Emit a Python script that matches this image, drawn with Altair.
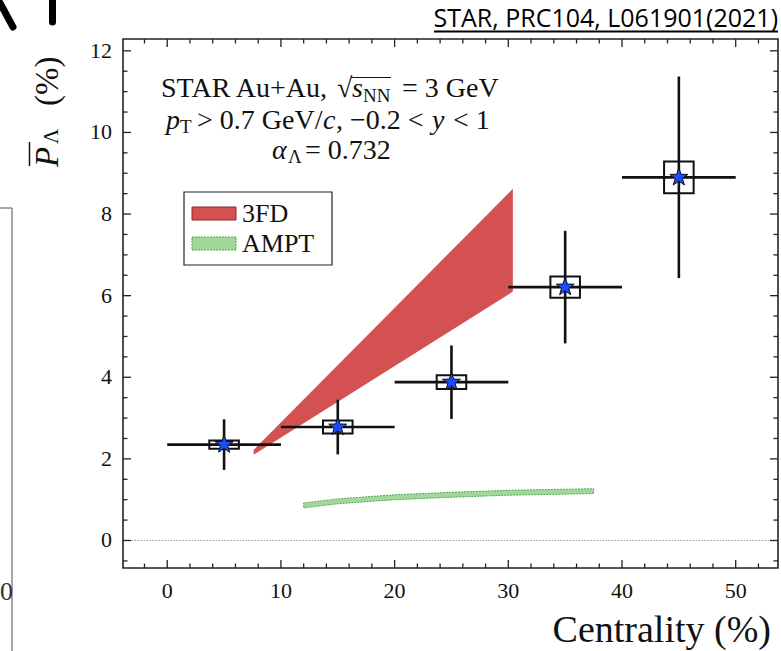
import altair as alt
import pandas as pd

# ---------------- data ----------------
centrality = [5, 15, 25, 35, 45]
bin_halfwidth = [5, 5, 5, 5, 5]
p_lambda = [2.35, 2.78, 3.88, 6.21, 8.90]
stat_err = [0.62, 0.67, 0.90, 1.38, 2.47]
sys_err = [0.10, 0.16, 0.17, 0.26, 0.39]

fd3_centrality = [7.6, 30.4]
fd3_low = [2.10, 6.10]
fd3_high = [2.22, 8.62]

ampt_centrality = [12, 15, 20, 25, 30, 37.5]
ampt_low = [0.80, 0.90, 1.00, 1.06, 1.11, 1.15]
ampt_high = [0.92, 1.02, 1.12, 1.18, 1.23, 1.27]

models = ["3FD", "AMPT"]
model_colors = ["#d45151", "#a3d89b"]
model_edges = ["#8e2b2b", "#45a345"]

x_major = [0, 10, 20, 30, 40, 50]
x_minor = [-2, 2, 4, 6, 8, 12, 14, 16, 18, 22, 24, 26, 28, 32, 34, 36, 38,
           42, 44, 46, 48, 52]
y_major = [0, 2, 4, 6, 8, 10, 12]
y_minor = [-0.5, 0.5, 1, 1.5, 2.5, 3, 3.5, 4.5, 5, 5.5, 6.5, 7, 7.5, 8.5, 9,
           9.5, 10.5, 11, 11.5]

# ---------------- layout / style ----------------
L, T, W, H = 123, 39, 655, 529
X_DOMAIN = [-3.89, 53.72]
Y_DOMAIN = [-0.674, 12.29]
SERIF = "Liberation Serif"
SYS_HALF = 1.3
STAR = ("M0,-1L0.235,-0.324L0.951,-0.309L0.38,0.124L0.588,0.809L0,0.4"
        "L-0.588,0.809L-0.38,0.124L-0.951,-0.309L-0.235,-0.324Z")

xscale = alt.Scale(domain=X_DOMAIN, nice=False, zero=False)
yscale = alt.Scale(domain=Y_DOMAIN, nice=False, zero=False)


def X(f):
    return alt.X(f, type="quantitative", scale=xscale, axis=None)


def Y(f):
    return alt.Y(f, type="quantitative", scale=yscale, axis=None)


ONE = pd.DataFrame({"k": [0]})


def txt(s, px, py, size, italic=False, font=SERIF, angle=0, align="left",
        color="#111"):
    return alt.Chart(ONE).mark_text(
        text=s, font=font, fontSize=size,
        fontStyle="italic" if italic else "normal",
        angle=angle, align=align, baseline="alphabetic", color=color
    ).encode(x=alt.value(px - L), y=alt.value(py - T))


def seg(x1, y1, x2, y2, width, color, cap="butt"):
    return alt.Chart(ONE).mark_rule(color=color, strokeWidth=width, strokeCap=cap).encode(
        x=alt.value(x1 - L), y=alt.value(y1 - T),
        x2=alt.value(x2 - L), y2=alt.value(y2 - T))


def box(x1, y1, x2, y2, fill, stroke, width=1.0, dash=None):
    kw = dict(fill=fill, stroke=stroke, strokeWidth=width)
    if dash:
        kw["strokeDash"] = dash
    return alt.Chart(ONE).mark_rect(**kw).encode(
        x=alt.value(x1 - L), y=alt.value(y1 - T),
        x2=alt.value(x2 - L), y2=alt.value(y2 - T))


pts = pd.DataFrame({"c": centrality, "p": p_lambda})
pts["xlo"] = [c - h for c, h in zip(centrality, bin_halfwidth)]
pts["xhi"] = [c + h for c, h in zip(centrality, bin_halfwidth)]
pts["ylo"] = [p - e for p, e in zip(p_lambda, stat_err)]
pts["yhi"] = [p + e for p, e in zip(p_lambda, stat_err)]
pts["slo"] = [p - e for p, e in zip(p_lambda, sys_err)]
pts["shi"] = [p + e for p, e in zip(p_lambda, sys_err)]
pts["blo"] = [c - SYS_HALF for c in centrality]
pts["bhi"] = [c + SYS_HALF for c in centrality]

zero = alt.Chart(pd.DataFrame({"z": [0]})).mark_rule(
    color="#9a9a9a", strokeDash=[1.5, 1.5], strokeWidth=1).encode(y=Y("z"))

fd3 = alt.Chart(pd.DataFrame({"c": fd3_centrality, "lo": fd3_low, "hi": fd3_high})
                ).mark_area(opacity=1, color=model_colors[0]).encode(
    x=X("c"), y=Y("lo"), y2=alt.Y2("hi"))

ampt = alt.Chart(pd.DataFrame({"c": ampt_centrality, "lo": ampt_low, "hi": ampt_high})
                 ).mark_area(opacity=1, fill=model_colors[1], stroke=model_edges[1],
                             strokeWidth=0.9, strokeDash=[2, 1]).encode(
    x=X("c"), y=Y("lo"), y2=alt.Y2("hi"))

base = alt.Chart(pts)
hbar = base.mark_rule(color="#111", strokeWidth=2.6).encode(
    x=X("xlo"), x2=alt.X2("xhi"), y=Y("p"))
vbar = base.mark_rule(color="#111", strokeWidth=2.6).encode(
    x=X("c"), y=Y("ylo"), y2=alt.Y2("yhi"))
boxes = base.mark_rect(fillOpacity=0, stroke="#111", strokeWidth=2).encode(
    x=X("blo"), x2=alt.X2("bhi"), y=Y("slo"), y2=alt.Y2("shi"))
stars = base.mark_point(shape=STAR, filled=True, fill="#1a4cff", stroke="#111",
                        strokeWidth=1, size=360, opacity=1).encode(x=X("c"), y=Y("p"))


def xticks(values, length, top):
    y1, y2 = (0, length) if top else (H, H - length)
    return alt.Chart(pd.DataFrame({"v": values})).mark_rule(
        color="#222", strokeWidth=1.3).encode(x=X("v"), y=alt.value(y1), y2=alt.value(y2))


def yticks(values, length, right):
    x1, x2 = (W, W - length) if right else (0, length)
    return alt.Chart(pd.DataFrame({"v": values})).mark_rule(
        color="#222", strokeWidth=1.3).encode(y=Y("v"), x=alt.value(x1), x2=alt.value(x2))


ticks = [xticks(x_major, 8, False), xticks(x_minor, 4.5, False),
         xticks(x_major, 8, True), xticks(x_minor, 4.5, True),
         yticks(y_major, 8, False), yticks(y_minor, 4.5, False),
         yticks(y_major, 8, True), yticks(y_minor, 4.5, True)]

xlabels = alt.Chart(pd.DataFrame({"v": x_major, "t": [str(v) for v in x_major]})
                    ).mark_text(font=SERIF, fontSize=22, baseline="top", align="center",
                                color="#111").encode(
    x=X("v"), y=alt.value(H + 13), text="t:N")
ylabels = alt.Chart(pd.DataFrame({"v": y_major, "t": [str(v) for v in y_major]})
                    ).mark_text(font=SERIF, fontSize=22, baseline="middle", align="right",
                                color="#111").encode(
    y=Y("v"), x=alt.value(-11), text="t:N")

# legend (drawn as a framed key)
legend_parts = [
    box(184, 192, 332, 265, "white", "#222", 1.2),
    box(192, 207, 236, 220, model_colors[0], model_edges[0], 1.0),
    box(192, 237, 236, 250, model_colors[1], model_edges[1], 1.0, [2, 1]),
    txt(models[0], 242, 222, 26),
    txt(models[1], 242, 252, 26),
]

texts = [
    # annotation
    txt("STAR Au+Au,", 161, 97, 28),
    txt("\u221a", 337, 97, 28),
    seg(351, 77.5, 391, 77.5, 1.2, "#111"),
    txt("s", 352, 97, 28, italic=True),
    txt("NN", 363, 101.5, 19),
    txt("= 3 GeV", 402, 97, 28),
    txt("p", 166, 128.5, 28, italic=True),
    txt("T", 180, 133, 19),
    txt("> 0.7 GeV/", 197, 128.5, 28),
    txt("c", 323, 128.5, 28, italic=True),
    txt(", \u22120.2 <", 336, 128.5, 28),
    txt("y", 432, 128.5, 28, italic=True),
    txt("< 1", 453, 128.5, 28),
    txt("\u03b1", 272, 158.5, 28, italic=True),
    txt("\u039b", 288, 163, 19),
    txt("= 0.732", 305, 158.5, 28),
    # y title (rotated)
    txt("P", 58, 167, 33, italic=True, angle=270),
    seg(29.5, 142, 29.5, 166, 1.5, "#111"),
    txt("\u039b", 58, 144, 21, angle=270),
    txt("(%)", 58, 106, 33, angle=270),
    # x title
    txt("Centrality (%)", 771, 642, 38, align="right"),
    # reference note
    txt("STAR, PRC104, L061901(2021)", 778, 27, 25, font="Open Sans", align="right",
        color="#000"),
    seg(434, 31.5, 778, 31.5, 1.8, "#000"),
    # slide fragments at the left edge
    seg(0, 3, 13, 27, 7, "#000", cap="round"),
    seg(52.5, 0, 52.5, 22, 7, "#000", cap="round"),
    seg(0, 208, 12, 208, 1.5, "#888"),
    seg(12, 208, 12, 651, 1.5, "#888"),
    txt("0", 0, 600, 26, align="left", color="#333"),
]

layers = ([zero, fd3, ampt, hbar, vbar, boxes, stars] + ticks + [xlabels, ylabels]
          + legend_parts + texts)

chart = alt.layer(*layers).properties(
    width=W, height=H,
    autosize=alt.AutoSizeParams(type="none"),
    padding={"left": L, "top": T, "right": 781 - L - W, "bottom": 651 - T - H},
    background="white",
).configure_view(stroke="#222", strokeWidth=1.6)

chart.save("out.html", embed_options={"renderer": "svg", "actions": False})
